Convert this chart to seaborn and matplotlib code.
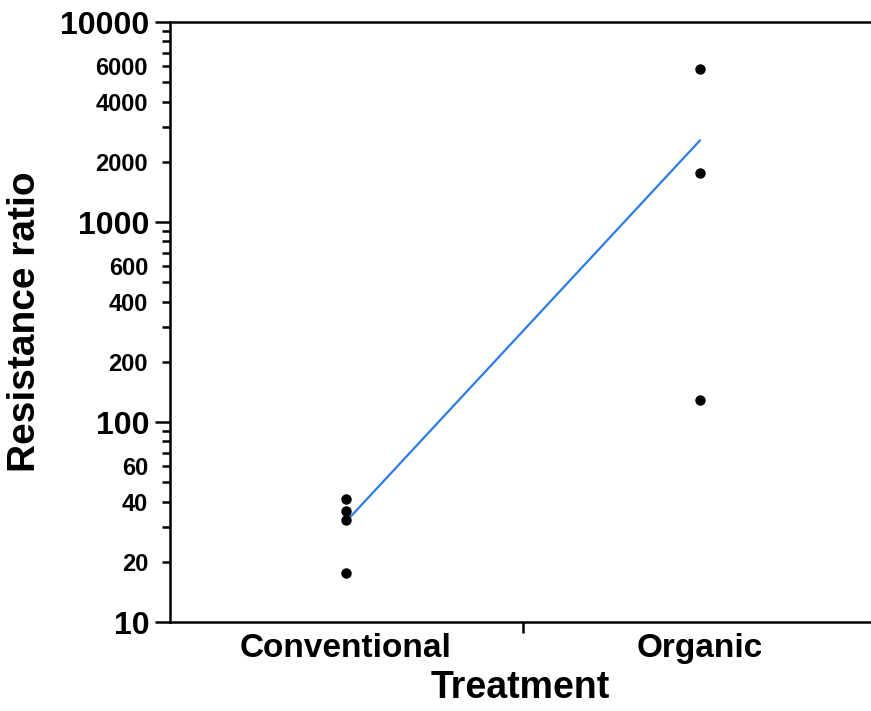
import matplotlib
matplotlib.use("Agg")
import matplotlib.pyplot as plt
import matplotlib.ticker as mticker
import seaborn as sns
import pandas as pd
import numpy as np

# Data
treatments = ["Conventional", "Conventional", "Conventional", "Conventional",
              "Organic", "Organic", "Organic"]
resistance = [41, 36, 32.5, 17.5, 5800, 1750, 129]
categories = ["Conventional", "Organic"]
major_ticks = [10, 100, 1000, 10000]
minor_labeled = [20, 40, 60, 200, 400, 600, 2000, 4000, 6000]

df = pd.DataFrame({"Treatment": treatments, "Resistance ratio": resistance})

sns.set_style("ticks")
plt.rcParams["font.family"] = ["Liberation Sans", "DejaVu Sans"]
plt.rcParams["font.weight"] = "bold"
plt.rcParams["text.color"] = "black"
plt.rcParams["axes.labelcolor"] = "black"
plt.rcParams["xtick.color"] = "black"
plt.rcParams["ytick.color"] = "black"
plt.rcParams["axes.edgecolor"] = "black"

fig = plt.figure(figsize=(8.71, 7.11), dpi=100)
ax = fig.add_axes([170 / 871, 1 - 622 / 711, 1 - 170 / 871, 600 / 711])

# mean line (arithmetic mean, computed on linear scale)
sns.pointplot(data=df, x="Treatment", y="Resistance ratio", order=categories,
              estimator="mean", errorbar=None, color="#2b7de6",
              markers="", linestyles="-", linewidth=1.6, ax=ax)
sns.stripplot(data=df, x="Treatment", y="Resistance ratio", order=categories,
              jitter=False, color="black", size=7.5, linewidth=0, ax=ax, zorder=5)

ax.set_yscale("log")
ax.set_ylim(10, 10000)
ax.set_xlim(-0.497, 1.483)

# y ticks
ax.yaxis.set_major_locator(mticker.FixedLocator(major_ticks))
ax.yaxis.set_major_formatter(mticker.FixedFormatter([str(v) for v in major_ticks]))
minor_all = [m * 10 ** e for e in range(1, 4) for m in range(2, 10)]
ax.yaxis.set_minor_locator(mticker.FixedLocator(minor_all))
ax.yaxis.set_minor_formatter(mticker.FuncFormatter(
    lambda v, p: str(int(round(v))) if int(round(v)) in minor_labeled else ""))
ax.tick_params(axis="y", which="major", length=11, width=1.8, labelsize=23, pad=4,
               direction="out", colors="black")
ax.tick_params(axis="y", which="minor", length=5.8, width=1.8, labelsize=17, pad=10,
               direction="out", colors="black")
for lab in ax.get_yticklabels(which="both"):
    lab.set_fontweight("bold")

# x ticks
ax.set_xticks([0, 1])
ax.set_xticklabels(categories, fontsize=24, fontweight="bold")
ax.xaxis.set_minor_locator(mticker.FixedLocator([0.5]))
ax.tick_params(axis="x", which="major", length=0, pad=8, colors="black")
ax.tick_params(axis="x", which="minor", length=8, width=1.8, direction="out",
               colors="black")

ax.set_xlabel("Treatment", fontsize=27, fontweight="bold", labelpad=4, color="black")
ax.set_ylabel("Resistance ratio", fontsize=28, fontweight="bold", labelpad=12,
              color="black")

for side in ["left", "bottom", "top"]:
    ax.spines[side].set_visible(True)
    ax.spines[side].set_linewidth(1.8)
    ax.spines[side].set_color("black")
ax.spines["right"].set_visible(False)

fig.savefig("out.png", dpi=100)
